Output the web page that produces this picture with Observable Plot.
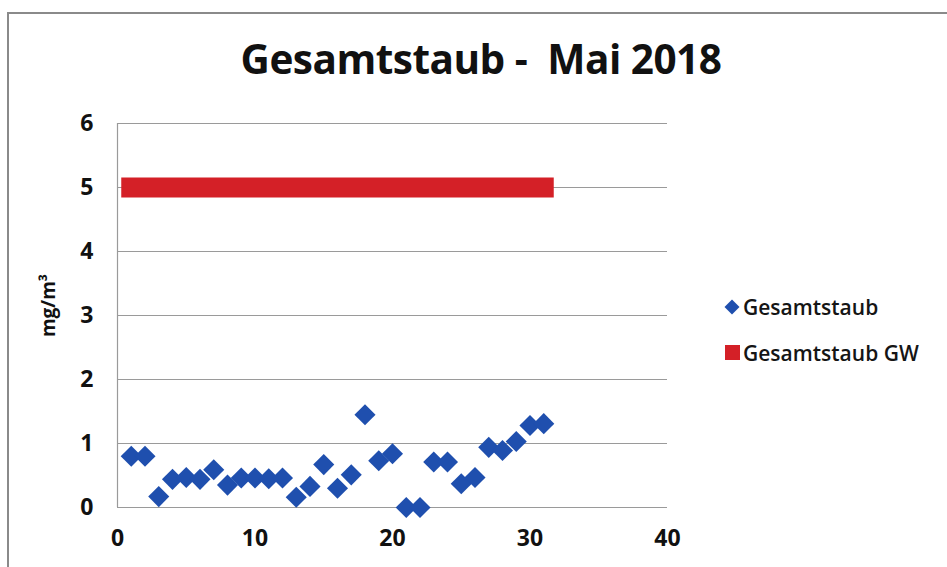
<!DOCTYPE html>
<html>
<head>
<meta charset="utf-8">
<script src="https://cdn.jsdelivr.net/npm/d3@7"></script>
<script src="https://cdn.jsdelivr.net/npm/@observablehq/plot@0.6"></script>
<style>
  html, body { margin: 0; padding: 0; background: #fff; }
  #wrap { position: relative; width: 947px; height: 567px; overflow: hidden; font-family: "Open Sans", Lato, sans-serif; }
  #frame { position: absolute; left: 7px; top: 12px; width: 960px; height: 600px; border-left: 2px solid #8a8a8a; border-top: 2px solid #8a8a8a; }
  #title { position: absolute; left: 0; width: 962px; top: 31px; text-align: center; font-weight: 700; font-size: 40.5px; white-space: pre; color: #111; letter-spacing: -0.5px; }
  #chart { position: absolute; left: 0; top: 0; }
  .leg { position: absolute; left: 723px; font-size: 21px; font-weight: 600; color: #151515; display: flex; align-items: center; white-space: pre; }
  .leg svg { margin-right: 2px; }
</style>
</head>
<body>
<div id="wrap">
  <div id="frame"></div>
  <div id="chart"></div>
  <div id="title">Gesamtstaub -  Mai 2018</div>
  <div class="leg" style="top:293px"><svg width="18" height="18"><path d="M9,1.5L16.5,9L9,16.5L1.5,9Z" fill="#1f4fae"/></svg>Gesamtstaub</div>
  <div class="leg" style="top:339px"><svg width="18" height="18"><rect x="2" y="1" width="15" height="15" fill="#d42027"/></svg>Gesamtstaub GW</div>
</div>
<script>
const days = [1,2,3,4,5,6,7,8,9,10,11,12,13,14,15,16,17,18,19,20,21,22,23,24,25,26,27,28,29,30,31];
const staub = [0.80,0.80,0.17,0.44,0.47,0.44,0.59,0.35,0.46,0.46,0.45,0.46,0.16,0.33,0.67,0.30,0.51,1.45,0.73,0.84,0.00,0.00,0.71,0.71,0.37,0.47,0.94,0.89,1.03,1.28,1.31];
const grenzwert = 5;
const xTicks = [0,10,20,30,40];
const yTicks = [0,1,2,3,4,5,6];

const pts = days.map((d,i) => ({day: d, v: staub[i]}));
const gw = days.map(d => ({day: d, v: grenzwert}));

const chart = Plot.plot({
  width: 947,
  height: 567,
  marginLeft: 117,
  marginRight: 280,
  marginTop: 123,
  marginBottom: 60,
  style: {fontFamily: "'Open Sans', Lato, sans-serif", background: "transparent", overflow: "visible"},
  x: {domain: [0,40], label: null},
  y: {domain: [0,6], label: null},
  marks: [
    Plot.gridY(yTicks, {stroke: "#9a9a9a", strokeOpacity: 1, strokeWidth: 1.2}),
    Plot.ruleX([0], {stroke: "#9a9a9a", strokeWidth: 1.2}),
    Plot.axisX({ticks: xTicks, tickFormat: d => String(d), tickSize: 0, tickPadding: 22, fontSize: 23, fontWeight: 700, fill: "#111", label: null}),
    Plot.axisY({ticks: yTicks, tickFormat: d => String(d), tickSize: 0, tickPadding: 24, fontSize: 23, fontWeight: 700, fill: "#111", label: null}),
    Plot.line(gw, {x: "day", y: "v", stroke: "#d42027", strokeWidth: 20, strokeLinecap: "square"}),
    Plot.dot(pts, {x: "day", y: "v", symbol: "diamond2", r: 9.5, fill: "#1f4fae", stroke: "none"}),
    Plot.text(["mg/m³"], {frameAnchor: "left", textAnchor: "middle", dx: -69, dy: -10, rotate: -90, fontSize: 19, fontWeight: 700, fill: "#111"})
  ]
});
document.getElementById("chart").appendChild(chart);
</script>
</body>
</html>
